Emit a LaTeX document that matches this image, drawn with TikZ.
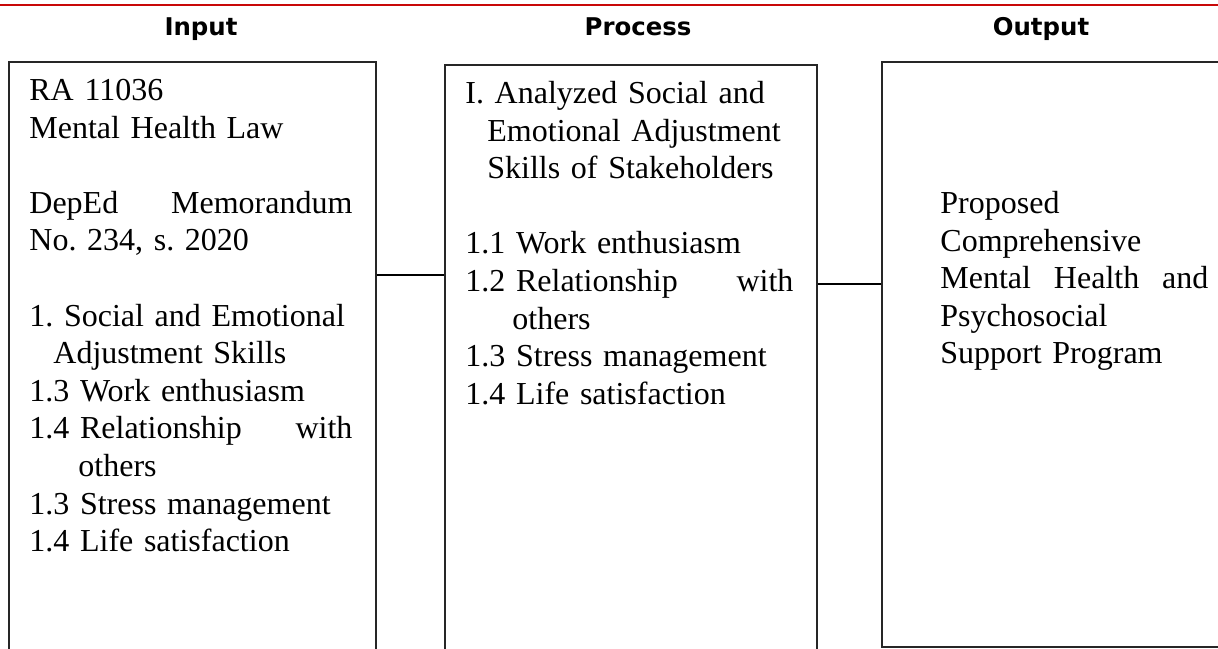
\documentclass[tikz,border=0pt]{standalone}
\usepackage{fontspec}
\setmainfont{Liberation Serif}
\newfontfamily\headfamily{DejaVu Sans}
\usetikzlibrary{positioning}
\definecolor{rulered}{RGB}{200,8,8}
\newcommand\bodyfont{\fontsize{16}{18.8}\selectfont\frenchspacing\hyphenpenalty=10000}
\newcommand\headfont{\headfamily\bfseries\fontsize{12.2}{14}\selectfont}
\tikzset
{
    heading/.style  = {anchor=base, inner sep=0pt, font=\headfont},
    framebox/.style = {rectangle, draw=black!85, line width=0.75pt, anchor=north west, inner sep=0pt},
    boxtext/.style  = {anchor=north west, inner sep=0pt, align=left, font=\bodyfont},
    link/.style     = {draw=black, line width=0.6pt}
}

\begin{document}
\begin{tikzpicture}[x=0.5pt, y=-0.5pt]
\useasboundingbox (0,0) rectangle (1218,648);
\clip (0,0) rectangle (1218,648);
\draw[rulered, line width=1.25pt] (0,5) -- (1218,5);

% column titles
\node[heading] (inHead)   at (201,35)  {Input};
\node[heading] (procHead) at (638,35)  {Process};
\node[heading] (outHead)  at (1041,35) {Output};

% the three frames
\node[framebox, minimum width=183.5pt, minimum height=319.5pt] (input)   at (8,61)  {};
\node[framebox, minimum width=186pt,   minimum height=318pt]   (process) at (444,64) {};
\node[framebox, minimum width=179.5pt, minimum height=292.5pt] (output)  at (881,61) {};

\coordinate (linkA) at (0,275);
\coordinate (linkB) at (0,284);
\draw[link] (input.east |- linkA) -- (process.west |- linkA);
\draw[link] (process.east |- linkB) -- (output.west |- linkB);

% frame contents
\node[boxtext, text width=161.5pt] (inText) at (29,73.7) {\strut RA 11036\\
  Mental Health Law\\[\baselineskip]
  DepEd \hfill Memorandum\\
  No. 234, s. 2020\\[\baselineskip]
  1. Social and Emotional\\
  \hspace*{12pt}Adjustment Skills\\
  1.3 Work enthusiasm\\
  1.4 Relationship \hfill with\\
  \hspace*{24.5pt}others\\
  1.3 Stress management\\
  1.4 Life satisfaction};

\node[boxtext, text width=164pt] (procText) at (465,76.7) {\strut I. Analyzed Social and\\
  \hspace*{11pt}Emotional Adjustment\\
  \hspace*{11pt}Skills of Stakeholders\\[\baselineskip]
  1.1 Work enthusiasm\\
  1.2 Relationship \hfill with\\
  \hspace*{23.5pt}others\\
  1.3 Stress management\\
  1.4 Life satisfaction};

\node[boxtext, text width=134pt] (outText) at (940,186.7) {\strut Proposed\\
  Comprehensive\\
  Mental \hfill Health \hfill and\\
  Psychosocial\\
  Support Program};
\end{tikzpicture}
\end{document}
